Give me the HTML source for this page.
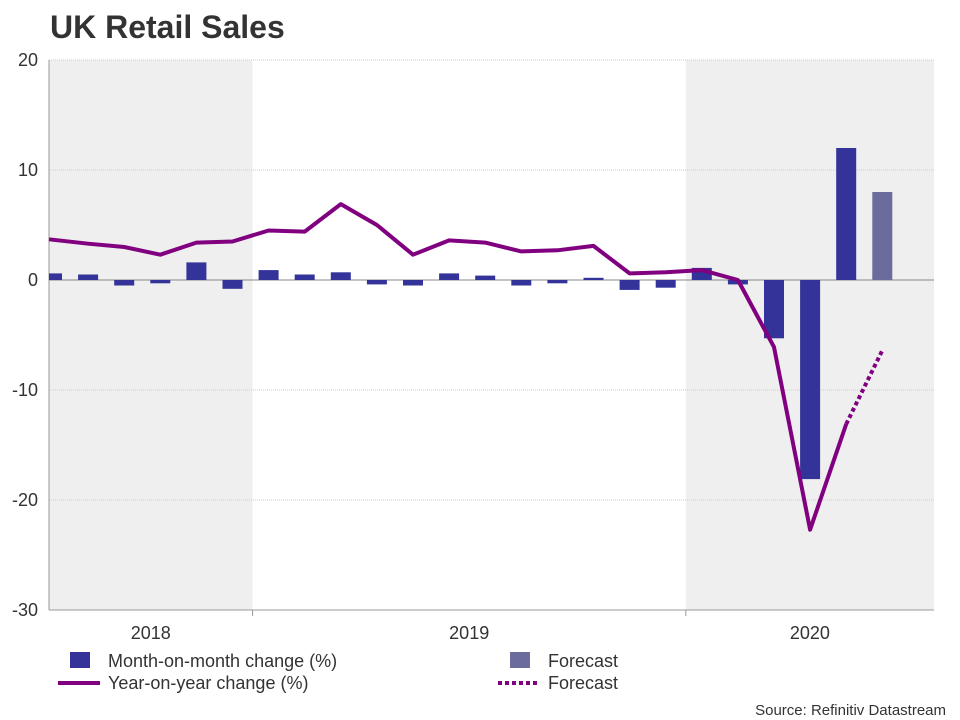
<!DOCTYPE html>
<html><head><meta charset="utf-8"><style>
body{margin:0;background:#fff;font-family:"Liberation Sans",Arial,sans-serif}
svg{display:block}
</style></head><body>
<svg width="960" height="720" xmlns="http://www.w3.org/2000/svg">
<text x="50" y="38" font-size="32" font-weight="bold" fill="#333">UK Retail Sales</text>
<g id="plot"></g>
<g>
<rect x="70" y="652" width="20" height="16" fill="#333399"/>
<text x="108" y="667" font-size="18" fill="#333">Month-on-month change (%)</text>
<rect x="510" y="652" width="20" height="16" fill="#6b6b9e"/>
<text x="548" y="667" font-size="18" fill="#333">Forecast</text>
<line x1="58" y1="683" x2="100" y2="683" stroke="#800080" stroke-width="4"/>
<text x="108" y="689" font-size="18" fill="#333">Year-on-year change (%)</text>
<line x1="498" y1="683" x2="540" y2="683" stroke="#800080" stroke-width="4" stroke-dasharray="4,3"/>
<text x="548" y="689" font-size="18" fill="#333">Forecast</text>
</g>
<text x="946" y="715" font-size="15" fill="#333" text-anchor="end">Source: Refinitiv Datastream</text>
</svg>
<script>
const mom = [0.6,0.5,-0.5,-0.3,1.6,-0.8,0.9,0.5,0.7,-0.4,-0.5,0.6,0.4,-0.5,-0.3,0.2,-0.9,-0.7,1.1,-0.4,-5.3,-18.1,12.0,8.0];
const yoy = [3.7,3.3,3.0,2.3,3.4,3.5,4.5,4.4,6.9,5.0,2.3,3.6,3.4,2.6,2.7,3.1,0.6,0.7,0.9,0.0,-6.1,-22.7,-13.1,-6.4];
const forecastStart = 23;
const yTicks = [20,10,0,-10,-20,-30];
const years = ["2018","2019","2020"];
const yearStartIdx = [0,6,18];
const yearEndIdx = [6,18,24];

const NS="http://www.w3.org/2000/svg";
const g=document.getElementById('plot');
const L=49,R=934,T=60,B=610;
const y=v=>280-v*11;
const x=i=>52+i*36.1;
const edge=i=>Math.max(L,Math.min(R,x(i)-16));
const yEdge=k=>k>=years.length-1&&false?R:edge(k);
function el(t,a){const e=document.createElementNS(NS,t);for(const k in a)e.setAttribute(k,a[k]);g.appendChild(e);return e;}
function yrEnd(k){return k===years.length-1?R:edge(yearEndIdx[k]);}

[0,2].forEach(k=>{
  const a=edge(yearStartIdx[k]),b=yrEnd(k);
  const r=el('rect',{x:a,y:T,width:b-a,height:B-T,fill:'#efefef'});
  
  
});
yTicks.forEach(t=>{
  const ln=el('line',{x1:L,x2:R,y1:y(t),y2:y(t),stroke:t===0?'#888':'#ccc','stroke-width':1,'stroke-dasharray':t===0?'':'1,1'});
  
  
  const tx=el('text',{x:38,y:y(t)+6,'font-size':18,fill:'#333','text-anchor':'end'});
  tx.textContent=t;
  
  
});
const ax=el('line',{x1:L,x2:L,y1:T,y2:B,stroke:'#999'});


const bx=el('line',{x1:L,x2:R,y1:B,y2:B,stroke:'#999'});


years.forEach((yr,k)=>{
  const a=edge(yearStartIdx[k]),b=yrEnd(k);
  const tx=el('text',{x:(a+b)/2,y:639,'font-size':18,fill:'#333','text-anchor':'middle'});
  tx.textContent=yr;
  
  
  if(k>0){const tk=el('line',{x1:a,x2:a,y1:B,y2:B+6,stroke:'#999'});
  
  }
});
mom.forEach((v,i)=>{
  let l=x(i)-10,r=x(i)+10;l=Math.max(l,L);
  const r1=el('rect',{x:l,y:Math.min(y(v),y(0)),width:r-l,height:Math.abs(y(v)-y(0)),fill:i>=forecastStart?'#6b6b9e':'#333399'});
  
  
});
const pts=yoy.slice(0,forecastStart).map((v,i)=>(i===0?L:x(i))+','+y(v)).join(' ');
const pl=el('polyline',{points:pts,fill:'none',stroke:'#800080','stroke-width':4,'stroke-linejoin':'round'});


const fp=yoy.slice(forecastStart-1).map((v,j)=>x(forecastStart-1+j)+','+y(v)).join(' ');
const fl=el('polyline',{points:fp,fill:'none',stroke:'#800080','stroke-width':4,'stroke-dasharray':'4,3'});


</script>
</body></html>
